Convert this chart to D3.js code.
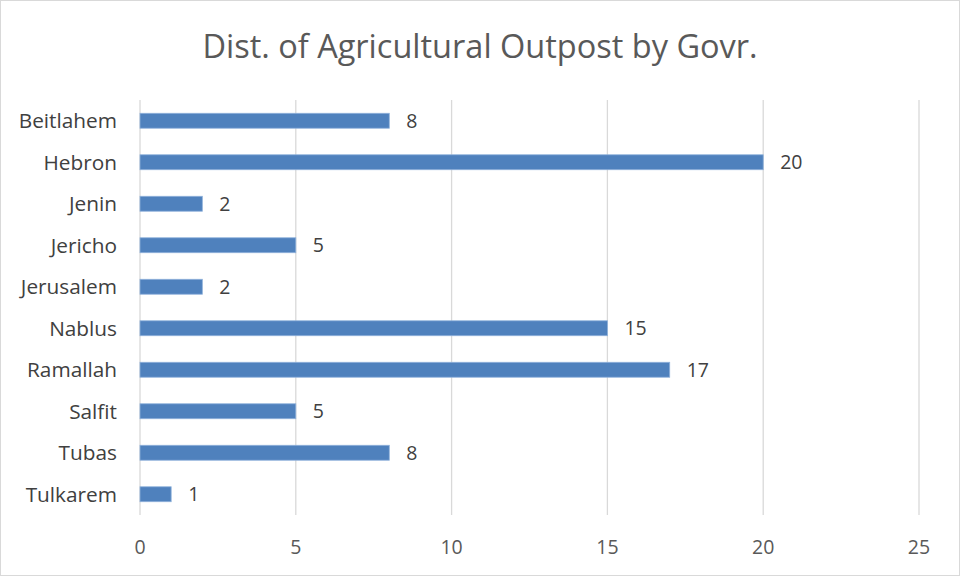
<!DOCTYPE html>
<html><head><meta charset="utf-8">
<script src="https://cdn.jsdelivr.net/npm/d3@7"></script>
<style>body{margin:0;background:#fff}svg{display:block}</style>
</head><body>
<script>
const categories = ["Beitlahem","Hebron","Jenin","Jericho","Jerusalem","Nablus","Ramallah","Salfit","Tubas","Tulkarem"];
const values = [8,20,2,5,2,15,17,5,8,1];
const xTicks = [0,5,10,15,20,25];
const title = "Dist. of Agricultural Outpost by Govr.";

const W = 961, H = 577;
const font = "'Open Sans', sans-serif";
const svg = d3.select("body").append("svg").attr("width", W).attr("height", H);
svg.append("rect").attr("x",0.5).attr("y",0.5).attr("width",W-2).attr("height",H-2)
  .attr("fill","#fff").attr("stroke","#d9d9d9");

const x = d3.scaleLinear().domain([0,25]).range([140,919]);
const y = d3.scaleBand().domain(categories).range([100,515]).paddingInner(0.64).paddingOuter(0.32);

svg.append("text").attr("x",480).attr("y",58).attr("text-anchor","middle")
  .attr("font-family",font).attr("font-size",32.5).attr("fill","#595959").text(title);

svg.append("g").selectAll("line").data(xTicks).join("line")
  .attr("x1",d=>x(d)).attr("x2",d=>x(d)).attr("y1",100).attr("y2",515)
  .attr("stroke","#d9d9d9").attr("stroke-width",1.3);

svg.append("g").selectAll("text").data(xTicks).join("text")
  .attr("x",d=>x(d)).attr("y",554).attr("text-anchor","middle")
  .attr("font-family",font).attr("font-size",19.5).attr("fill","#595959").text(d=>d);

svg.append("g").selectAll("rect").data(categories).join("rect")
  .attr("x",x(0)).attr("y",d=>y(d)).attr("width",(d,i)=>x(values[i])-x(0)).attr("height",y.bandwidth())
  .attr("fill","#4f81bd").attr("stroke","#8eb1da").attr("stroke-width",0.8);

svg.append("g").selectAll("text").data(categories).join("text")
  .attr("x",117).attr("y",d=>y(d)+y.bandwidth()/2).attr("dy","0.35em").attr("text-anchor","end")
  .attr("font-family",font).attr("font-size",20.8).attr("fill","#404040").text(d=>d);

svg.append("g").selectAll("text").data(categories).join("text")
  .attr("x",(d,i)=>x(values[i])+17).attr("y",d=>y(d)+y.bandwidth()/2).attr("dy","0.37em")
  .attr("font-family",font).attr("font-size",19.5).attr("fill","#404040").text((d,i)=>values[i]);
</script>
</body></html>
